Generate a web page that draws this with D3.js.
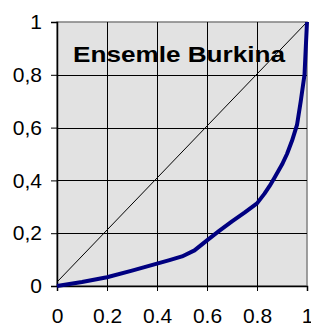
<!DOCTYPE html>
<html>
<head>
<meta charset="utf-8">
<script src="https://cdn.jsdelivr.net/npm/d3@7"></script>
<style>
    body { margin: 0; background: #fff; }
    svg { display: block; font-family: "Liberation Sans", Arial, sans-serif; }
</style>
</head>
<body>
<svg width="311" height="324"></svg>
<script>
"use strict";

const title = 'Ensemle Burkina';
const xTicks = [0, 0.2, 0.4, 0.6, 0.8, 1];
const yTicks = [0, 0.2, 0.4, 0.6, 0.8, 1];

// Lorenz curve (cumulative population share vs cumulative share)
const popShare = [0, 0.1, 0.2, 0.3, 0.4, 0.45, 0.5, 0.55, 0.6, 0.65, 0.7, 0.75, 0.8, 0.83, 0.85, 0.87, 0.9, 0.92, 0.94, 0.96, 0.975, 0.99, 0.995, 1];
const cumShare = [0, 0.015, 0.033, 0.058, 0.085, 0.098, 0.112, 0.135, 0.173, 0.21, 0.245, 0.278, 0.313, 0.35, 0.378, 0.41, 0.46, 0.5, 0.55, 0.61, 0.7, 0.8, 0.9, 1];

// equality line
const diagX = [0, 1];
const diagY = [0.015, 1];

const svg = d3.select('svg');
const margin = {top: 22, right: 4, bottom: 38, left: 57},
    width = +svg.attr('width') - margin.left - margin.right,
    height = +svg.attr('height') - margin.top - margin.bottom,
    g = svg.append('g').attr('transform', `translate(${margin.left},${margin.top})`);

const x = d3.scaleLinear().domain([0, 1]).range([0, width]);
const y = d3.scaleLinear().domain([0, 1]).range([height, 0]);

// plot area
g.append('rect')
    .attr('width', width)
    .attr('height', height)
    .attr('fill', '#e2e2e2')
    .attr('stroke', '#808080')
    .attr('stroke-width', 1.5);

// grid
g.append('g')
    .selectAll('line')
    .data(xTicks.slice(1, -1))
    .enter().append('line')
    .attr('x1', d => x(d) + 0.5).attr('x2', d => x(d) + 0.5)
    .attr('y1', 0).attr('y2', height)
    .attr('stroke', '#000').attr('stroke-width', 1);

g.append('g')
    .selectAll('line')
    .data(yTicks.slice(1, -1))
    .enter().append('line')
    .attr('y1', d => Math.round(y(d)) + 0.5).attr('y2', d => Math.round(y(d)) + 0.5)
    .attr('x1', 0).attr('x2', width)
    .attr('stroke', '#000').attr('stroke-width', 1);

// axes
const xAxis = g.append('g')
    .attr('transform', `translate(0,${height})`)
    .call(d3.axisBottom(x).tickValues(xTicks).tickSize(5).tickPadding(17)
        .tickFormat(d => d3.format('')(d)));

const yAxis = g.append('g')
    .call(d3.axisLeft(y).tickValues(yTicks).tickSize(6).tickPadding(9)
        .tickFormat(d => String(d).replace('.', ',')));

[xAxis, yAxis].forEach(a => {
    a.select('.domain').attr('stroke', '#000').attr('stroke-width', 1.5);
    a.selectAll('.tick line').attr('stroke', '#000');
    a.selectAll('text')
        .attr('font-size', '21px')
        .attr('font-family', '"Liberation Sans", Arial, sans-serif')
        .attr('fill', '#000');
});

// diagonal
const diag = diagX.map((v, i) => ({x: v, y: diagY[i]}));
g.append('path')
    .datum(diag)
    .attr('d', d3.line().x(d => x(d.x)).y(d => y(d.y)))
    .attr('fill', 'none')
    .attr('stroke', '#000')
    .attr('stroke-width', 1);

// lorenz curve
const curve = popShare.map((v, i) => ({x: v, y: cumShare[i]}));
g.append('path')
    .datum(curve)
    .attr('d', d3.line().x(d => x(d.x)).y(d => y(d.y)))
    .attr('fill', 'none')
    .attr('stroke', '#000080')
    .attr('stroke-width', 4)
    .attr('stroke-linejoin', 'round');

// title
g.append('text')
    .attr('x', 16)
    .attr('y', 40)
    .attr('font-size', '22px')
    .attr('font-weight', 'bold')
    .attr('textLength', 212)
    .attr('lengthAdjust', 'spacingAndGlyphs')
    .text(title);
</script>
</body>
</html>
